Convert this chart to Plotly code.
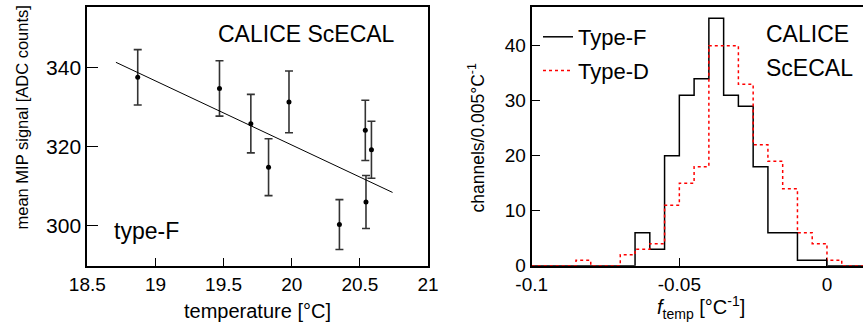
import numpy as np
import plotly.graph_objects as go

# ---- Left panel data: mean MIP signal vs temperature (type-F) ----
temperature = [18.87, 19.47, 19.70, 19.83, 19.98, 20.35, 20.54, 20.545, 20.585]
mip_signal = [337.5, 334.7, 325.8, 314.8, 331.3, 300.3, 324.1, 306.0, 319.2]
mip_error = [7.0, 7.0, 7.4, 7.2, 7.8, 6.3, 7.6, 6.7, 7.2]
fit_x_range = [18.71, 20.74]
fit_slope = -16.2       # ADC counts / degC
fit_at_start = 341.3    # value at fit_x_range[0]

# ---- Right panel data: histogram of f_temp ----
bin_start = -0.1
bin_width = 0.005
type_f_counts = [0, 0, 0, 0, 0, 0, 0, 6, 3, 20, 31, 34, 45, 31, 29, 18, 6, 6, 1, 1, 0, 0, 0]
type_d_counts = [0, 0, 0, 1, 0, 0, 2, 3, 4, 11, 15, 18, 40, 40, 33, 22, 19, 14, 6, 4, 1, 0, 0]

W, H = 863, 333
FONT = "Liberation Sans, Arial, Helvetica, sans-serif"


def px(x):
    return x / W


def py(y):
    return 1 - y / H


fig = go.Figure()

# left: points with error bars
fig.add_trace(go.Scatter(
    x=temperature, y=mip_signal, mode="markers",
    marker=dict(color="black", size=5),
    error_y=dict(type="data", array=mip_error, visible=True, color="#333333",
                 thickness=1.6, width=4),
    xaxis="x", yaxis="y", showlegend=False,
))
fx = np.array(fit_x_range)
fy = fit_at_start + fit_slope * (fx - fit_x_range[0])
fig.add_trace(go.Scatter(
    x=fx, y=fy, mode="lines", line=dict(color="black", width=1),
    xaxis="x", yaxis="y", showlegend=False,
))

# right: histograms as step lines
edges = bin_start + bin_width * np.arange(len(type_f_counts) + 1)
fig.add_trace(go.Scatter(
    x=edges, y=list(type_f_counts) + [type_f_counts[-1]], mode="lines",
    line=dict(color="black", width=1.5, shape="hv"),
    name="Type-F", xaxis="x2", yaxis="y2", legendgroup="f",
))
fig.add_trace(go.Scatter(
    x=edges, y=list(type_d_counts) + [type_d_counts[-1]], mode="lines",
    line=dict(color="#ff0000", width=1.5, shape="hv", dash="dot"),
    name="Type-D", xaxis="x2", yaxis="y2", legendgroup="d",
))

axis_common = dict(showline=True, linecolor="black", linewidth=2, ticks="inside",
                   tickcolor="black", showgrid=False, zeroline=False, automargin=False,
                   tickfont=dict(family=FONT, size=19, color="black"))

y_dom = [py(265.7), py(7.3)]

fig.update_layout(
    width=W, height=H,
    margin=dict(l=0, r=0, t=0, b=0, autoexpand=False),
    paper_bgcolor="white", plot_bgcolor="white",
    font=dict(family=FONT, color="black"),
    xaxis=dict(domain=[px(87.3), px(428)], range=[18.5, 21], tickvals=[18.5, 19, 19.5, 20, 20.5, 21],
               ticktext=["18.5", "19", "19.5", "20", "20.5", "21"], ticklen=8, mirror=True,
               anchor="y", **axis_common),
    yaxis=dict(domain=y_dom, range=[289.9, 355.2], tickvals=[300, 320, 340], ticklen=11,
               mirror=True, anchor="x",
               **{**axis_common, "tickfont": dict(family=FONT, size=21, color="black")}),
    xaxis2=dict(domain=[px(531.7), 1], range=[-0.1, 0.0122], tickvals=[-0.1, -0.05, 0],
                ticktext=["-0.1", "-0.05", "0"], ticklen=8, mirror=True, anchor="y2",
                **axis_common),
    yaxis2=dict(domain=y_dom, range=[0, 47], tickvals=[0, 10, 20, 30, 40], ticklen=8,
                mirror=False, anchor="x2", **axis_common),
    legend=dict(x=px(538), y=py(16), xanchor="left", yanchor="top",
                bgcolor="rgba(0,0,0,0)", font=dict(family=FONT, size=22, color="black"),
                traceorder="grouped", tracegroupgap=2, itemwidth=30),
)

annotations = [
    # axis titles
    dict(text="mean MIP signal [ADC counts]", x=px(21.5), y=py(118), textangle=-90,
         font=dict(size=16.5)),
    dict(text="temperature [°C]", x=px(257.5), y=py(311), font=dict(size=20)),
    dict(text="channels/0.005°C<sup>-1</sup>", x=px(476), y=py(138.5), textangle=-90,
         font=dict(size=17.5)),
    dict(text="<i>f</i><sub>temp</sub> [°C<sup>-1</sup>]", x=px(701), y=py(307),
         font=dict(size=20)),
    # in-plot labels
    dict(text="CALICE ScECAL", x=px(397), y=py(34), xanchor="right", font=dict(size=23)),
    dict(text="type-F", x=px(112), y=py(231), xanchor="left", font=dict(size=23)),
    dict(text="CALICE", x=px(764), y=py(34), xanchor="left", font=dict(size=23)),
    dict(text="ScECAL", x=px(764), y=py(67.5), xanchor="left", font=dict(size=23)),
]
for a in annotations:
    base = dict(xref="paper", yref="paper", showarrow=False, xanchor="center", yanchor="middle")
    base.update(a)
    base["font"] = dict(family=FONT, color="black", **a.get("font", {}))
    fig.add_annotation(**base)

fig.write_html("out.html")
